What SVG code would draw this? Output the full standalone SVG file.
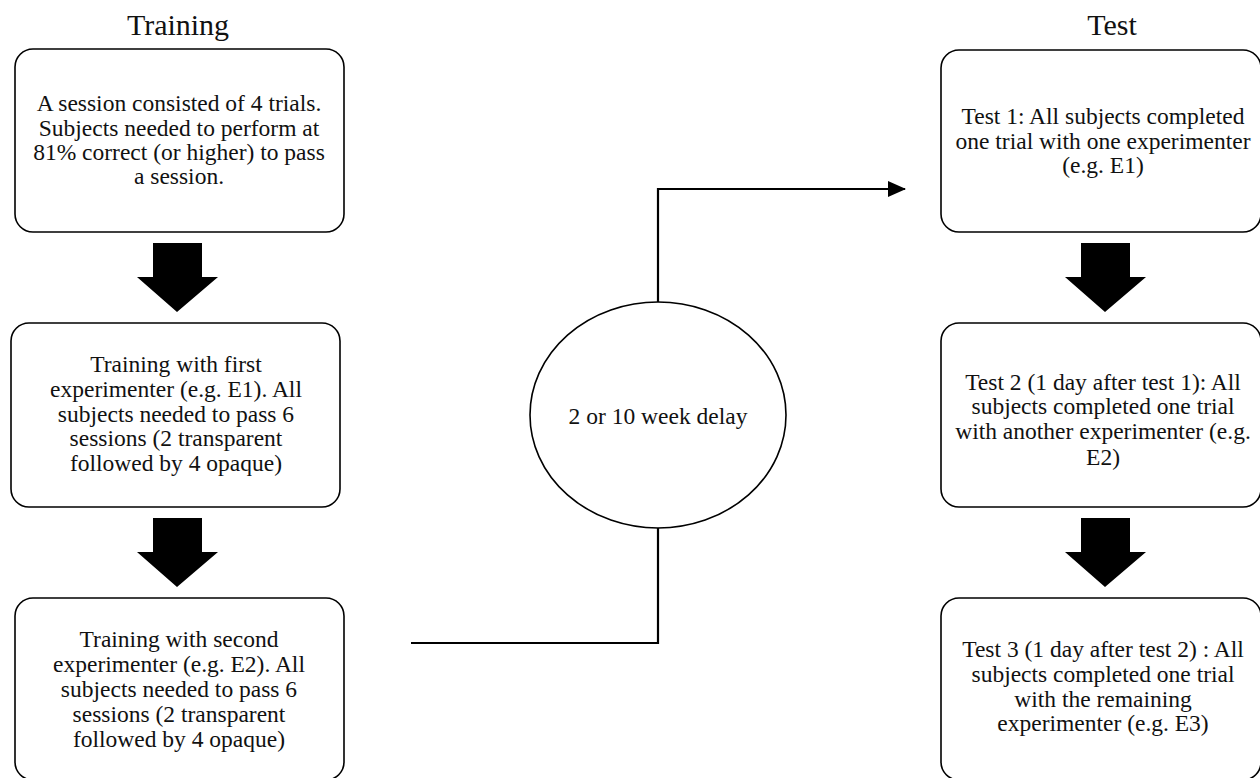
<svg xmlns="http://www.w3.org/2000/svg" width="1260" height="778" viewBox="0 0 1260 778">
<defs>
<style>
.box{fill:#fff;stroke:#000;stroke-width:1.6}
.t{font-family:"Liberation Serif","Times New Roman",serif;font-size:23.5px;fill:#111;text-anchor:middle}
.h{font-family:"Liberation Serif","Times New Roman",serif;font-size:30px;fill:#111;text-anchor:middle}
.conn{fill:none;stroke:#000;stroke-width:2.2}
.big{fill:#000}
</style>
<marker id="ah" viewBox="0 0 18 16" refX="17" refY="8" markerWidth="18" markerHeight="16" markerUnits="userSpaceOnUse" orient="auto">
<path d="M0,0 L18,8 L0,16 z" fill="#000"/>
</marker>
<path id="bigarrow" d="M-24,0 H25 V34 H41 L0,69 L-40,34 H-24 z"/>
</defs>
<text class="h" x="178" y="35">Training</text>
<text class="h" x="1112" y="35">Test</text>
<g id="train1">
<rect class="box" x="15" y="49" width="329" height="183" rx="18"/>
<text class="t" x="179" y="111">A session consisted of 4 trials.</text>
<text class="t" x="179" y="136">Subjects needed to perform at</text>
<text class="t" x="179" y="160">81% correct (or higher) to pass</text>
<text class="t" x="179" y="184">a session.</text>
</g>
<g id="train2">
<rect class="box" x="11" y="323" width="329" height="184" rx="18"/>
<text class="t" x="176" y="372">Training with first</text>
<text class="t" x="176" y="397">experimenter (e.g. E1). All</text>
<text class="t" x="176" y="422">subjects needed to pass 6</text>
<text class="t" x="176" y="446">sessions (2 transparent</text>
<text class="t" x="176" y="471">followed by 4 opaque)</text>
</g>
<g id="train3">
<rect class="box" x="15" y="598" width="329" height="182" rx="18"/>
<text class="t" x="179" y="647">Training with second</text>
<text class="t" x="179" y="672">experimenter (e.g. E2). All</text>
<text class="t" x="179" y="697">subjects needed to pass 6</text>
<text class="t" x="179" y="722">sessions (2 transparent</text>
<text class="t" x="179" y="747">followed by 4 opaque)</text>
</g>
<g id="delay">
<ellipse class="box" cx="658" cy="415" rx="128" ry="113"/>
<text class="t" x="658" y="424">2 or 10 week delay</text>
</g>
<g id="test1">
<rect class="box" x="941" y="50" width="320" height="182" rx="18"/>
<text class="t" x="1103" y="124">Test 1: All subjects completed</text>
<text class="t" x="1103" y="149">one trial with one experimenter</text>
<text class="t" x="1103" y="173">(e.g. E1)</text>
</g>
<g id="test2">
<rect class="box" x="941" y="323" width="320" height="184" rx="18"/>
<text class="t" x="1103" y="390">Test 2 (1 day after test 1): All</text>
<text class="t" x="1103" y="414">subjects completed one trial</text>
<text class="t" x="1103" y="439">with another experimenter (e.g.</text>
<text class="t" x="1103" y="465">E2)</text>
</g>
<g id="test3">
<rect class="box" x="941" y="598" width="320" height="182" rx="18"/>
<text class="t" x="1103" y="657">Test 3 (1 day after test 2) : All</text>
<text class="t" x="1103" y="682">subjects completed one trial</text>
<text class="t" x="1103" y="707">with the remaining</text>
<text class="t" x="1103" y="731">experimenter (e.g. E3)</text>
</g>
<g id="connectors">
<use href="#bigarrow" class="big" x="177" y="243"/>
<use href="#bigarrow" class="big" x="177" y="518"/>
<use href="#bigarrow" class="big" x="1105" y="243"/>
<use href="#bigarrow" class="big" x="1105" y="518"/>
<path class="conn" d="M411,643 H658 V528"/>
<path class="conn" d="M658,302 V189 H905" marker-end="url(#ah)"/>
</g>
</svg>
